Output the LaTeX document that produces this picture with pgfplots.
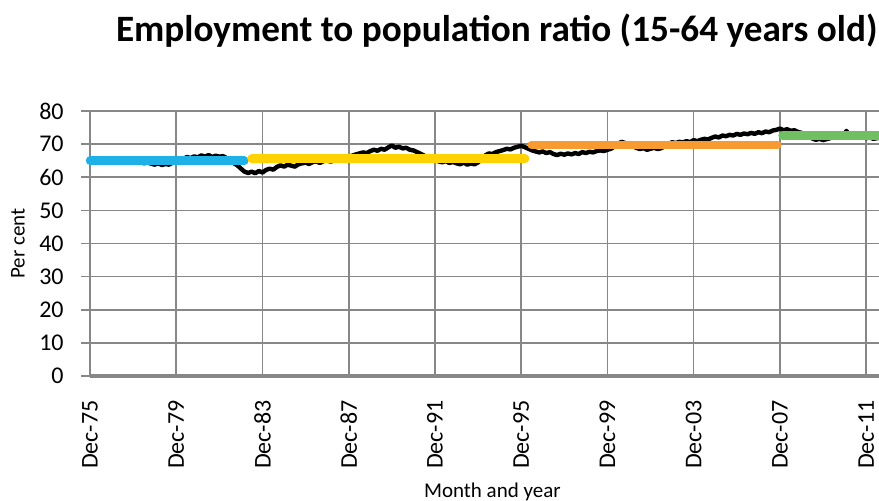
\documentclass[border=0pt]{standalone}
\usepackage{fontspec}
\setmainfont{Carlito}
\usepackage{pgfplots}
\pgfplotsset{compat=1.18}
\definecolor{gridgray}{HTML}{878787}
\definecolor{sblue}{HTML}{1DB1E8}
\definecolor{syellow}{HTML}{FFD200}
\definecolor{sorange}{HTML}{F79A30}
\definecolor{sgreen}{HTML}{70BF62}
\begin{document}
\begin{tikzpicture}
\path[use as bounding box] (-45pt,-62.5pt) rectangle (394.5pt,188pt);
\begin{axis}[
  at={(0pt,0pt)}, anchor=south west,
  scale only axis, width=394.5pt, height=132.5pt,
  xmin=1975.917, xmax=2012.513, ymin=0, ymax=80,
  xtick={1975.917,1979.917,1983.917,1987.917,1991.917,1995.917,1999.917,2003.917,2007.917,2011.917},
  xticklabels={Dec-75,Dec-79,Dec-83,Dec-87,Dec-91,Dec-95,Dec-99,Dec-03,Dec-07,Dec-11},
  ytick={0,10,...,80},
  grid=major, major grid style={gridgray, line width=0.8pt},
  axis x line=bottom, axis y line=left,
  x axis line style={-, gridgray, line width=2pt},
  y axis line style={-, gridgray, line width=0.8pt},
  xtick style={draw=none},
  ytick style={gridgray, line width=0.8pt},
  tick align=outside, major tick length=4.5pt,
  /pgf/number format/assume math mode=true,
  tick label style={font=\fontsize{12}{14}\selectfont},
  xticklabel style={rotate=90, anchor=east, inner sep=0pt},
  yticklabel style={anchor=east, inner sep=0pt},
  xticklabel shift=7.5pt,
  yticklabel shift=8.5pt,
  every axis title/.style={at={(axis description cs:0.5155,1.262)}, anchor=base, font=\bfseries\fontsize{18.6}{21}\selectfont},
  every axis x label/.style={at={(axis description cs:0.510,-0.4604)}, anchor=base, font=\fontsize{10.5}{12}\selectfont},
  every axis y label/.style={at={(axis description cs:-0.083,0.5)}, anchor=base, rotate=90, font=\fontsize{10.5}{12}\selectfont},
  title={Employment to population ratio (15-64 years old)},
  xlabel={Month and year},
  ylabel={Per cent},
  clip=false,
]
\addplot[black, line width=2.2pt, line join=round] table {
1975.92 65.3
1976.08 64.9
1976.25 65.2
1976.42 64.8
1976.58 65.2
1976.75 64.9
1976.92 65.1
1977.08 64.7
1977.25 65.0
1977.42 64.6
1977.58 65.0
1977.75 64.7
1977.92 64.9
1978.08 64.5
1978.25 64.8
1978.42 64.2
1978.58 64.5
1978.75 64.1
1978.92 63.8
1979.08 64.2
1979.25 63.7
1979.42 64.0
1979.58 63.8
1979.75 64.4
1979.92 64.6
1980.08 65.0
1980.25 65.6
1980.42 66.1
1980.58 65.8
1980.75 66.3
1980.92 66.0
1981.08 66.6
1981.25 66.2
1981.42 66.7
1981.58 66.1
1981.75 66.5
1981.92 66.2
1982.08 66.4
1982.25 65.8
1982.42 65.0
1982.58 64.3
1982.75 63.6
1982.92 62.6
1983.08 61.7
1983.25 61.3
1983.42 61.7
1983.58 61.2
1983.75 61.9
1983.92 61.4
1984.08 62.2
1984.25 62.6
1984.42 62.3
1984.58 63.1
1984.75 63.6
1984.92 63.2
1985.08 63.8
1985.25 63.5
1985.42 63.2
1985.58 63.9
1985.75 64.2
1985.92 64.4
1986.08 64.0
1986.25 64.6
1986.42 64.8
1986.58 64.3
1986.75 64.9
1986.92 65.1
1987.08 64.7
1987.25 65.2
1987.42 65.5
1987.58 65.3
1987.75 65.9
1987.92 66.2
1988.08 66.5
1988.25 66.9
1988.42 67.2
1988.58 67.5
1988.75 67.3
1988.92 67.9
1989.08 68.3
1989.25 68.0
1989.42 68.6
1989.58 68.3
1989.75 69.0
1989.92 69.6
1990.08 68.9
1990.25 69.2
1990.42 68.7
1990.58 68.9
1990.75 68.3
1990.92 68.1
1991.08 67.6
1991.25 67.1
1991.42 66.5
1991.58 66.0
1991.75 65.6
1991.92 65.2
1992.08 64.8
1992.25 64.5
1992.42 64.9
1992.58 64.3
1992.75 64.6
1992.92 64.2
1993.08 63.9
1993.25 64.4
1993.42 63.8
1993.58 64.2
1993.75 63.9
1993.92 64.5
1994.08 65.4
1994.25 66.6
1994.42 67.2
1994.58 67.0
1994.75 67.6
1994.92 67.9
1995.08 68.2
1995.25 68.6
1995.42 68.4
1995.58 68.9
1995.75 69.2
1995.92 69.5
1996.08 69.1
1996.25 68.6
1996.42 68.1
1996.58 67.8
1996.75 67.5
1996.92 67.8
1997.08 67.3
1997.25 67.6
1997.42 67.0
1997.58 66.7
1997.75 67.1
1997.92 66.8
1998.08 67.2
1998.25 66.9
1998.42 67.3
1998.58 67.0
1998.75 67.6
1998.92 67.3
1999.08 67.7
1999.25 67.5
1999.42 67.9
1999.58 68.1
1999.75 67.9
1999.92 68.3
2000.08 68.6
2000.25 69.3
2000.42 70.2
2000.58 70.7
2000.75 70.3
2000.92 69.9
2001.08 69.4
2001.25 68.9
2001.42 68.5
2001.58 68.8
2001.75 68.3
2001.92 68.6
2002.08 68.9
2002.25 68.5
2002.42 68.8
2002.58 69.4
2002.75 70.0
2002.92 70.6
2003.08 70.3
2003.25 70.7
2003.42 70.5
2003.58 70.9
2003.75 70.6
2003.92 71.2
2004.08 70.9
2004.25 71.3
2004.42 71.6
2004.58 71.4
2004.75 71.9
2004.92 72.3
2005.08 72.0
2005.25 72.6
2005.42 72.4
2005.58 72.8
2005.75 72.6
2005.92 73.1
2006.08 72.8
2006.25 73.2
2006.42 73.0
2006.58 73.4
2006.75 73.1
2006.92 73.6
2007.08 73.3
2007.25 73.8
2007.42 73.6
2007.58 74.1
2007.75 74.3
2007.92 74.7
2008.08 74.2
2008.25 74.5
2008.42 74.0
2008.58 74.2
2008.75 73.7
2008.92 73.4
2009.08 72.9
2009.25 72.3
2009.42 71.7
2009.58 71.3
2009.75 71.6
2009.92 71.2
2010.08 71.5
2010.25 71.8
2010.42 72.2
2010.58 72.0
2010.75 72.5
2010.92 72.9
2011.00 74.0
2011.08 73.2
2011.25 72.7
2011.42 72.3
2011.58 71.9
2011.75 72.2
2011.92 71.8
2012.08 72.0
2012.25 71.6
2012.51 71.9
};
\addplot[sblue, line width=4.2pt, line cap=round] coordinates {(1975.917,65.0) (1983.08,65.0)};
\addplot[syellow, line width=4.2pt, line cap=round] coordinates {(1983.41,65.6) (1996.1,65.6)};
\addplot[sorange, line width=4.2pt, line cap=round] coordinates {(1996.4,69.7) (2007.8,69.7)};
\addplot[sgreen, line width=4.2pt, line cap=round] coordinates {(2008.04,72.6) (2012.513,72.6)};
\end{axis}
\end{tikzpicture}
\end{document}
